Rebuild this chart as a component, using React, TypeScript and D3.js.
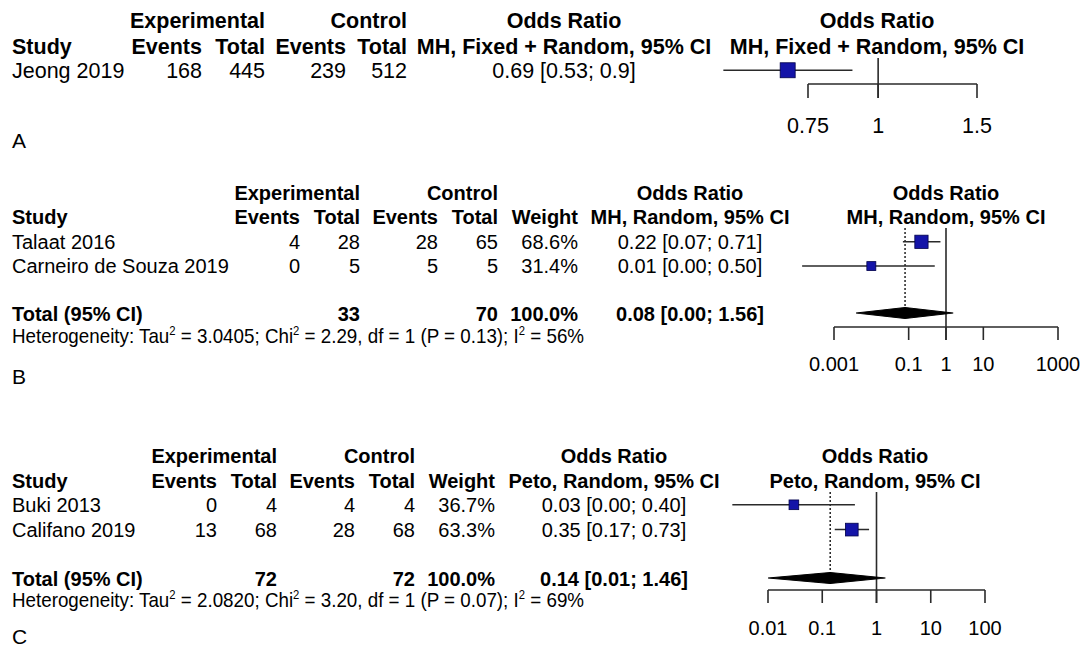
import React from 'react';
import * as d3 from 'd3';

// ---------- Panel A data ----------
const studiesA = ["Jeong 2019"];
const expEventsA = [168];
const expTotalA = [445];
const ctlEventsA = [239];
const ctlTotalA = [512];
const orA = [0.69];
const lowerA = [0.53];
const upperA = [0.9];
const ciLabelsA = ["0.69 [0.53; 0.9]"];
const ticksA = [0.75, 1, 1.5];
const tickLabelsA = ["0.75", "1", "1.5"];

// ---------- Panel B data ----------
const studiesB = ["Talaat 2016", "Carneiro de Souza 2019"];
const expEventsB = [4, 0];
const expTotalB = [28, 5];
const ctlEventsB = [28, 5];
const ctlTotalB = [65, 5];
const weightsB = [68.6, 31.4];
const orB = [0.22, 0.01];
const lowerB = [0.07, 0.00014];
const upperB = [0.71, 0.5];
const ciLabelsB = ["0.22 [0.07; 0.71]", "0.01 [0.00; 0.50]"];
const pooledB = [0.08, 0.0039, 1.56];
const pooledLabelB = "0.08 [0.00; 1.56]";
const totalsB = ["33", "70", "100.0%"];
const hetB = ["3.0405", "2.29", "1", "0.13", "56%"];
const ticksB = [0.001, 0.1, 1, 10, 1000];
const tickLabelsB = ["0.001", "0.1", "1", "10", "1000"];

// ---------- Panel C data ----------
const studiesC = ["Buki 2013", "Califano 2019"];
const expEventsC = [0, 13];
const expTotalC = [4, 68];
const ctlEventsC = [4, 28];
const ctlTotalC = [4, 68];
const weightsC = [36.7, 63.3];
const orC = [0.03, 0.35];
const lowerC = [0.0022, 0.17];
const upperC = [0.4, 0.73];
const ciLabelsC = ["0.03 [0.00; 0.40]", "0.35 [0.17; 0.73]"];
const pooledC = [0.14, 0.01, 1.46];
const pooledLabelC = "0.14 [0.01; 1.46]";
const totalsC = ["72", "72", "100.0%"];
const hetC = ["2.0820", "3.20", "1", "0.07", "69%"];
const ticksC = [0.01, 0.1, 1, 10, 100];
const tickLabelsC = ["0.01", "0.1", "1", "10", "100"];

const FONT = "'Liberation Sans', Arial, Helvetica, sans-serif";
const BLUE = "#1414a8";
const LINE = "#2a2a2a";

type Layout = {
  fs: number;
  yH1: number; yH2: number; yRow0: number; step: number;
  yTotal?: number; yHet?: number;
  label: string; yLabel: number;
  ends: number[];
  midX: number; rightX: number;
  xRange: [number, number];
  yNullTop: number; yAxis: number; yTickEnd: number; yTickLabel: number;
  yDiamond?: number; dotted: boolean;
  method: string;
  fixedSquare?: number;
};

type PanelProps = {
  L: Layout;
  studies: string[]; expEvents: number[]; expTotal: number[]; ctlEvents: number[]; ctlTotal: number[];
  weights?: number[]; or: number[]; lower: number[]; upper: number[]; ciLabels: string[];
  ticks: number[]; tickLabels: string[];
  pooled?: number[]; pooledLabel?: string; totals?: string[]; het?: string[];
};

function Het({ x, y, fs, het }: { x: number; y: number; fs: number; het: string[] }) {
  const sup = fs * 0.6;
  const up = fs * 0.38;
  return (
    <text transform={`translate(${x},${y}) scale(0.94,1)`} fontSize={fs} fontFamily={FONT} fill="#000">
      Heterogeneity: Tau
      <tspan dy={-up} fontSize={sup}>2</tspan>
      <tspan dy={up}>{` = ${het[0]}; Chi`}</tspan>
      <tspan dy={-up} fontSize={sup}>2</tspan>
      <tspan dy={up}>{` = ${het[1]}, df = ${het[2]} (P = ${het[3]}); I`}</tspan>
      <tspan dy={-up} fontSize={sup}>2</tspan>
      <tspan dy={up}>{` = ${het[4]}`}</tspan>
    </text>
  );
}

function Panel(p: PanelProps) {
  const L = p.L;
  const x = d3.scaleLog().domain([p.ticks[0], p.ticks[p.ticks.length - 1]]).range(L.xRange);
  const fs = L.fs;
  const t = (xx: number, yy: number, s: string | number, anchor = 'end', bold = false, key?: string) => (
    <text key={key} x={xx} y={yy} textAnchor={anchor} fontWeight={bold ? 'bold' : 'normal'} fontSize={fs} fontFamily={FONT} fill="#000">{s}</text>
  );
  const hasW = !!p.weights;
  const [eE, eT, cE, cT, wE] = L.ends;
  const rowY = (i: number) => L.yRow0 + i * L.step;
  const cOff = fs * 0.36;
  const x1 = x(1);
  return (
    <g>
      {t(eT, L.yH1, 'Experimental', 'end', true)}
      {t(cT, L.yH1, 'Control', 'end', true)}
      {t(L.midX, L.yH1, 'Odds Ratio', 'middle', true)}
      {t(L.rightX, L.yH1, 'Odds Ratio', 'middle', true)}
      {t(12, L.yH2, 'Study', 'start', true)}
      {t(eE, L.yH2, 'Events', 'end', true)}
      {t(eT, L.yH2, 'Total', 'end', true)}
      {t(cE, L.yH2, 'Events', 'end', true)}
      {t(cT, L.yH2, 'Total', 'end', true)}
      {hasW && t(wE, L.yH2, 'Weight', 'end', true)}
      {t(L.midX, L.yH2, L.method, 'middle', true)}
      {t(L.rightX, L.yH2, L.method, 'middle', true)}
      {p.studies.map((s, i) => (
        <g key={s}>
          {t(12, rowY(i), s, 'start')}
          {t(eE, rowY(i), p.expEvents[i])}
          {t(eT, rowY(i), p.expTotal[i])}
          {t(cE, rowY(i), p.ctlEvents[i])}
          {t(cT, rowY(i), p.ctlTotal[i])}
          {hasW && t(wE, rowY(i), p.weights![i].toFixed(1) + '%')}
          {t(L.midX, rowY(i), p.ciLabels[i], 'middle')}
        </g>
      ))}
      {p.totals && L.yTotal !== undefined && (
        <g>
          {t(12, L.yTotal, 'Total (95% CI)', 'start', true)}
          {t(eT, L.yTotal, p.totals[0], 'end', true)}
          {t(cT, L.yTotal, p.totals[1], 'end', true)}
          {t(wE, L.yTotal, p.totals[2], 'end', true)}
          {t(L.midX, L.yTotal, p.pooledLabel!, 'middle', true)}
        </g>
      )}
      {p.het && L.yHet !== undefined && <Het x={12} y={L.yHet} fs={fs} het={p.het} />}
      <text x={12} y={L.yLabel} fontSize={21} fontFamily={FONT} fill="#000">{L.label}</text>

      {L.dotted && p.pooled && (
        <line x1={x(p.pooled[0])} x2={x(p.pooled[0])} y1={L.yNullTop} y2={L.yDiamond} stroke="#000" strokeWidth={1.3} strokeDasharray="2,2" />
      )}
      <line x1={x1} x2={x1} y1={L.yNullTop} y2={L.yTickEnd} stroke={LINE} strokeWidth={1.6} />
      <line x1={x(p.ticks[0])} x2={x(p.ticks[p.ticks.length - 1])} y1={L.yAxis} y2={L.yAxis} stroke={LINE} strokeWidth={1.6} />
      {p.ticks.map((v, i) => (
        <g key={'tk' + i}>
          <line x1={x(v)} x2={x(v)} y1={L.yAxis} y2={L.yTickEnd} stroke={LINE} strokeWidth={1.6} />
          <text x={x(v)} y={L.yTickLabel} textAnchor="middle" fontSize={fs} fontFamily={FONT} fill="#000">{p.tickLabels[i]}</text>
        </g>
      ))}
      {p.or.map((v, i) => {
        const cy = rowY(i) - cOff;
        const sz = L.fixedSquare ?? 1.6 * Math.sqrt(p.weights ? p.weights[i] : 100);
        return (
          <g key={'ci' + i}>
            <line x1={x(p.lower[i])} x2={x(p.upper[i])} y1={cy} y2={cy} stroke={LINE} strokeWidth={1.5} />
            <rect x={x(v) - sz / 2} y={cy - sz / 2} width={sz} height={sz} fill={BLUE} stroke="#00004a" strokeWidth={0.8} />
          </g>
        );
      })}
      {p.pooled && L.yDiamond !== undefined && (
        <polygon
          points={`${x(p.pooled[1])},${L.yDiamond} ${x(p.pooled[0])},${L.yDiamond - 5.5} ${x(p.pooled[2])},${L.yDiamond} ${x(p.pooled[0])},${L.yDiamond + 5.5}`}
          fill="#000" stroke="#000" strokeWidth={1.2}
        />
      )}
    </g>
  );
}

const layoutA: Layout = {
  fs: 21.5, yH1: 28, yH2: 54, yRow0: 78, step: 24,
  label: 'A', yLabel: 148,
  ends: [202, 265, 346, 407],
  midX: 564, rightX: 877, xRange: [808, 977],
  yNullTop: 58, yAxis: 84, yTickEnd: 98, yTickLabel: 133,
  dotted: false, method: 'MH, Fixed + Random, 95% CI', fixedSquare: 15,
};

const layoutB: Layout = {
  fs: 20, yH1: 200, yH2: 224, yRow0: 249, step: 24.3,
  yTotal: 321, yHet: 343,
  label: 'B', yLabel: 384,
  ends: [300, 360, 438, 498, 578],
  midX: 690, rightX: 946, xRange: [834, 1058],
  yNullTop: 228, yAxis: 327, yTickEnd: 340, yTickLabel: 371,
  yDiamond: 313, dotted: true, method: 'MH, Random, 95% CI',
};

const layoutC: Layout = {
  fs: 20, yH1: 463, yH2: 488, yRow0: 512, step: 24.8,
  yTotal: 586, yHet: 607,
  label: 'C', yLabel: 644,
  ends: [217, 277, 355, 415, 495],
  midX: 614, rightX: 875, xRange: [768, 985],
  yNullTop: 492, yAxis: 590, yTickEnd: 603, yTickLabel: 635,
  yDiamond: 578, dotted: true, method: 'Peto, Random, 95% CI',
};

export default function App() {
  return (
    <svg width={1081} height={647} style={{ position: 'absolute', left: 0, top: 0, background: '#fff' }}>
      <rect x={0} y={0} width={1081} height={647} fill="#fff" />
      <Panel L={layoutA} studies={studiesA} expEvents={expEventsA} expTotal={expTotalA} ctlEvents={ctlEventsA} ctlTotal={ctlTotalA}
        or={orA} lower={lowerA} upper={upperA} ciLabels={ciLabelsA} ticks={ticksA} tickLabels={tickLabelsA} />
      <Panel L={layoutB} studies={studiesB} expEvents={expEventsB} expTotal={expTotalB} ctlEvents={ctlEventsB} ctlTotal={ctlTotalB}
        weights={weightsB} or={orB} lower={lowerB} upper={upperB} ciLabels={ciLabelsB} ticks={ticksB} tickLabels={tickLabelsB}
        pooled={pooledB} pooledLabel={pooledLabelB} totals={totalsB} het={hetB} />
      <Panel L={layoutC} studies={studiesC} expEvents={expEventsC} expTotal={expTotalC} ctlEvents={ctlEventsC} ctlTotal={ctlTotalC}
        weights={weightsC} or={orC} lower={lowerC} upper={upperC} ciLabels={ciLabelsC} ticks={ticksC} tickLabels={tickLabelsC}
        pooled={pooledC} pooledLabel={pooledLabelC} totals={totalsC} het={hetC} />
    </svg>
  );
}
